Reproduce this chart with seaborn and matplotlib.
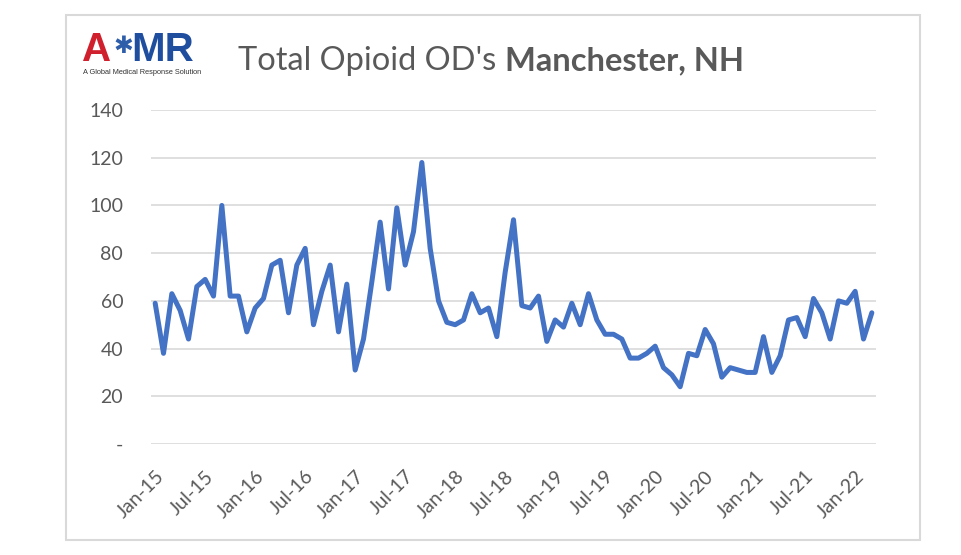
"""Total opioid overdoses, Manchester NH - monthly line chart."""

import matplotlib

matplotlib.use("Agg")

import matplotlib.pyplot as plt
import matplotlib.patches as mpatches
import numpy as np
import pandas as pd
import seaborn as sns

# monthly counts, Jan-15 .. Mar-22
months = pd.date_range("2015-01-01", periods=87, freq="MS").strftime("%b-%y").tolist()
overdoses = [
    59, 38, 63, 56, 44, 66, 69, 62, 100, 62, 62, 47,
    57, 61, 75, 77, 55, 75, 82, 50, 64, 75, 47, 67,
    31, 44, 68, 93, 65, 99, 75, 89, 118, 82, 60, 51,
    50, 52, 63, 55, 57, 45, 72, 94, 58, 57, 62, 43,
    52, 49, 59, 50, 63, 52, 46, 46, 44, 36, 36, 38,
    41, 32, 29, 24, 38, 37, 48, 42, 28, 32, 31, 30,
    30, 45, 30, 37, 52, 53, 45, 61, 55, 44, 60, 59,
    64, 44, 55,
]
y_ticks = [0, 20, 40, 60, 80, 100, 120, 140]
y_labels = ["-", "20", "40", "60", "80", "100", "120", "140"]

GREY = "#595959"
LINE = "#4472C4"

sns.set_theme(style="white")
plt.rcParams["font.family"] = ["Lato", "DejaVu Sans"]

W, H = 962, 555
fig = plt.figure(figsize=(W / 100, H / 100), dpi=100)
ax = fig.add_axes([151 / W, 1 - 444 / H, (876 - 151) / W, (444 - 110) / H])

df = pd.DataFrame({"pos": np.arange(len(months)), "month": months, "count": overdoses})
sns.lineplot(data=df, x="pos", y="count", ax=ax, color=LINE, linewidth=3.6)

ax.set_xlim(-0.5, len(months) - 0.5)
ax.set_ylim(0, 140)
ax.set_yticks(y_ticks)
ax.set_yticklabels(y_labels, color=GREY, fontsize=14)
tick_pos = df["pos"][::6]
ax.set_xticks(tick_pos)
ax.set_xticklabels(df["month"][::6], rotation=45, ha="right", va="top",
                   rotation_mode="anchor", color=GREY, fontsize=14)
ax.tick_params(axis="both", length=0)
ax.tick_params(axis="y", pad=20)
ax.tick_params(axis="x", pad=17)
ax.grid(axis="y", color="#D9D9D9", linewidth=1.2)
ax.grid(axis="x", visible=False)
for s in ax.spines.values():
    s.set_visible(False)
ax.set_xlabel("")
ax.set_ylabel("")

# outer chart border
fig.add_artist(mpatches.Rectangle((66 / W, 1 - 540 / H), (920 - 66) / W, (540 - 15) / H,
                                  transform=fig.transFigure, fill=False,
                                  edgecolor="#D9D9D9", linewidth=1.5))

# title: regular + bold part
t1 = fig.text(238 / W, 1 - 70 / H, "Total Opioid OD's ", fontsize=23.5, color=GREY,
              ha="left", va="baseline")
fig.canvas.draw()
bb = t1.get_window_extent()
fig.text(bb.x1 / W, 1 - 70 / H, "Manchester, NH", fontsize=23.5, color=GREY,
         fontweight="bold", ha="left", va="baseline")

# AMR logo, approximated with text
fig.text(82 / W, 1 - 61 / H, "A", fontsize=29, color="#D0202E", fontweight="bold",
         family="Liberation Sans", ha="left", va="baseline")
fig.text(123 / W, 1 - 46 / H, "\u2731", fontsize=17, color="#2E5DAA",
         family="DejaVu Sans", ha="center", va="center")
fig.text(131 / W, 1 - 61 / H, "MR", fontsize=29, color="#1F4E9E", fontweight="bold",
         family="Liberation Sans", ha="left", va="baseline")
fig.text(83 / W, 1 - 74 / H, "A Global Medical Response Solution", fontsize=5.3,
         color="#333333", family="Liberation Sans", ha="left", va="baseline")

fig.savefig("out.png", dpi=100)
plt.close(fig)
